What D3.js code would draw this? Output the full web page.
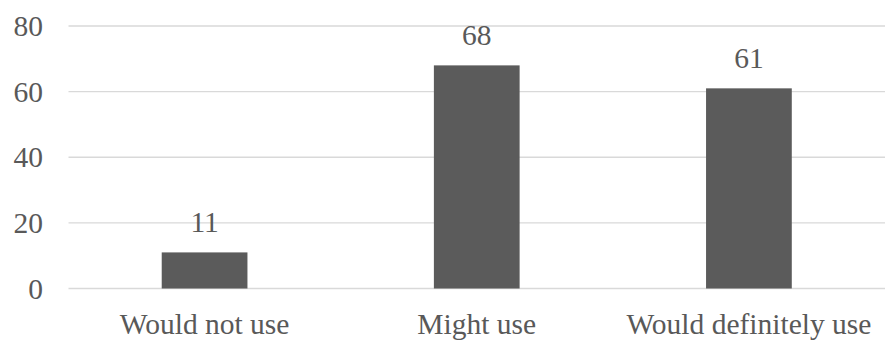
<!DOCTYPE html>
<html>
<head>
<meta charset="utf-8">
<script src="https://cdn.jsdelivr.net/npm/d3@7"></script>
<style>
  html, body { margin: 0; padding: 0; background: #fff; }
  svg text { font-family: "Liberation Serif", "Times New Roman", serif; fill: #595959; }
</style>
</head>
<body>
<svg id="chart" width="885" height="340"></svg>
<script>
// Survey responses: how likely respondents are to use it
const categories = ["Would not use", "Might use", "Would definitely use"];
const counts = [11, 68, 61];
const yTicks = [0, 20, 40, 60, 80];

const fontSize = 29.5;
const svg = d3.select("#chart");
const plot = { left: 68.5, right: 885, top: 26, bottom: 288.5 };

const x = d3.scaleBand()
  .domain(categories)
  .range([plot.left, plot.right])
  .paddingInner(0.685)
  .paddingOuter(0.3425);

const y = d3.scaleLinear()
  .domain([0, 80])
  .range([plot.bottom, plot.top]);

// horizontal gridlines
svg.append("g")
  .selectAll("line")
  .data(yTicks)
  .join("line")
  .attr("x1", plot.left)
  .attr("x2", plot.right)
  .attr("y1", d => y(d))
  .attr("y2", d => y(d))
  .attr("stroke", "#d9d9d9")
  .attr("stroke-width", 1.3);

// y tick labels
svg.append("g")
  .selectAll("text")
  .data(yTicks)
  .join("text")
  .attr("x", 43)
  .attr("y", d => y(d))
  .attr("dy", "0.34em")
  .attr("text-anchor", "end")
  .attr("font-size", fontSize)
  .text(d => d);

// bars
svg.append("g")
  .selectAll("rect")
  .data(categories)
  .join("rect")
  .attr("x", d => x(d))
  .attr("width", x.bandwidth())
  .attr("y", (d, i) => y(counts[i]))
  .attr("height", (d, i) => y(0) - y(counts[i]))
  .attr("fill", "#5b5b5b");

// value labels above bars
svg.append("g")
  .selectAll("text")
  .data(categories)
  .join("text")
  .attr("x", d => x(d) + x.bandwidth() / 2)
  .attr("y", (d, i) => y(counts[i]) - 20.5)
  .attr("text-anchor", "middle")
  .attr("font-size", fontSize)
  .text((d, i) => counts[i]);

// category labels
svg.append("g")
  .selectAll("text")
  .data(categories)
  .join("text")
  .attr("x", d => x(d) + x.bandwidth() / 2)
  .attr("y", 334)
  .attr("text-anchor", "middle")
  .attr("font-size", fontSize)
  .text(d => d);
</script>
</body>
</html>
